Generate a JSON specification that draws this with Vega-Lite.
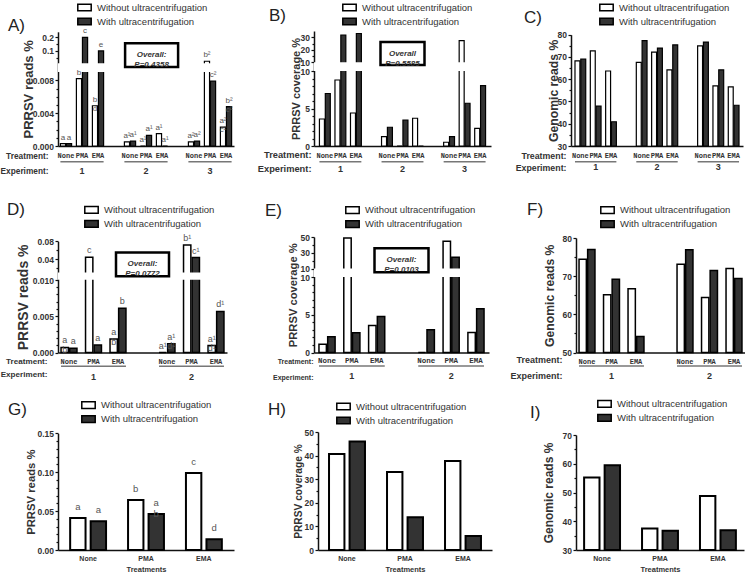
{
"$schema": "https://vega.github.io/schema/vega-lite/v6.json",
"padding": {"left": 0, "top": 0, "right": 0, "bottom": 0},
"spacing": 25,
"resolve": {"scale": {"fill": "independent", "xOffset": "independent"}, "legend": {"fill": "independent"}},
"vconcat": [
{"hconcat": [
{"width": 176, "height": 115,
 "title": {"text": "A)", "dx": -50, "dy": 39},
 "resolve": {"axis": {"y": "independent"}},
 "data": {"values": [
  {"cat":"1|None","s":"w","v":0.0003,"lab":"a"},{"cat":"1|None","s":"u","v":0.0003,"lab":"a"},
  {"cat":"1|PMA","s":"w","v":0.0082,"lab":"b"},{"cat":"1|PMA","s":"u","v":0.2,"lab":"c"},
  {"cat":"1|EMA","s":"w","v":0.0049,"lab":"b\nd"},{"cat":"1|EMA","s":"u","v":0.1,"lab":"e"},
  {"cat":"2|None","s":"w","v":0.0005,"lab":"a¹"},{"cat":"2|None","s":"u","v":0.0006,"lab":"a¹"},
  {"cat":"2|PMA","s":"w","v":0,"lab":"a¹"},{"cat":"2|PMA","s":"u","v":0.0013,"lab":"a¹"},
  {"cat":"2|EMA","s":"w","v":0.0015,"lab":"a¹"},{"cat":"2|EMA","s":"u","v":0,"lab":"a¹"},
  {"cat":"3|None","s":"w","v":0.0005,"lab":"a²"},{"cat":"3|None","s":"u","v":0.0006,"lab":"a²"},
  {"cat":"3|PMA","s":"w","v":0.025,"lab":"b²"},{"cat":"3|PMA","s":"u","v":0.0079,"lab":"c²"},
  {"cat":"3|EMA","s":"w","v":0.0023,"lab":"a²\nc²"},{"cat":"3|EMA","s":"u","v":0.0048,"lab":"b²\nc²"}
 ]},
 "layer": [
  {"mark": {"type": "bar", "stroke": "black", "strokeWidth": 1.2},
   "encoding": {
    "x": {"field": "cat", "type": "nominal",
      "scale": {"domain": ["1|None","1|PMA","1|EMA","g1","2|None","2|PMA","2|EMA","g2","3|None","3|PMA","3|EMA"], "paddingInner": 0.3, "paddingOuter": 0.15},
      "axis": {"title": ["Treatment:", "Experiment:"], "titleAlign": "right", "titleX": -10, "titleY": 5, "titleBaseline": "top", "titleLineHeight": 15.7, "titleFontSize": 8.3,
        "labelExpr": "indexof(datum.value, '|') > 0 ? split(datum.value, '|')[1] : ''", "labelFont": "Liberation Mono", "labelFontSize": 7, "labelAngle": 0, "labelPadding": 5, "ticks": false}},
    "xOffset": {"field": "s", "type": "nominal", "scale": {"domain": ["w","u"], "paddingInner": 0.15}},
    "y": {"field": "v", "type": "quantitative",
      "scale": {"domain": [0, 0.009, 0.01, 0.24], "range": [115, 41.1, 32.3, 0.8], "nice": false, "zero": false},
      "axis": {"orient": "left", "title": "PRRSV reads %", "titleFontSize": 13, "values": [0, 0.004, 0.008, 0.1, 0.2], "tickCount": 50, "labelExpr": "datum.value < 0.01 ? format(datum.value, '.3f') : format(datum.value, '.1f')", "minExtent": 23, "maxExtent": 23, "titlePadding": 0}},
    "y2": {"datum": 0},
    "fill": {"field": "s", "type": "nominal", "scale": {"domain": ["w","u"], "range": ["white", "#333333"]},
      "legend": {"orient": "none", "title": null, "legendX": 19, "legendY": -31, "labelExpr": "datum.value == 'w' ? 'Without ultracentrifugation' : 'With ultracentrifugation'"}}
   }},
  {"data": {"values": [{}]}, "mark": {"type": "rule", "opacity": 0},
   "encoding": {"y": {"datum": 0, "type": "quantitative", "axis": {"orient": "left", "values": [0.001, 0.002, 0.003, 0.005, 0.006, 0.007, 0.05, 0.15], "tickCount": 50, "labels": false, "domain": false, "title": null, "tickSize": 2}}}},
  {"data": {"values": [{}]}, "mark": {"type": "rect", "fill": "white"},
   "encoding": {"y": {"datum": 0.009, "type": "quantitative", "axis": null}, "y2": {"datum": 0.01}}},
  {"mark": {"type": "text", "baseline": "bottom", "dy": -2, "fontSize": 8, "color": "#555", "lineBreak": "\n", "lineHeight": 9},
   "encoding": {"x": {"field": "cat", "type": "nominal"}, "xOffset": {"field": "s", "type": "nominal"}, "y": {"field": "v", "type": "quantitative", "axis": null}, "text": {"field": "lab"}}},
  {"data": {"values": [{"t": "Overall:\nP=0.4358"}]},
   "layer": [
    {"mark": {"type": "point", "shape": "M-1,-0.45L1,-0.45L1,0.45L-1,0.45Z", "size": 2809, "filled": false, "color": "black", "strokeWidth": 2.5, "opacity": 1},
     "encoding": {"x": {"datum": "2|PMA", "type": "nominal", "bandPosition": 1}, "y": {"datum": 0.07, "type": "quantitative", "axis": null}}},
    {"mark": {"type": "text", "fontSize": 8, "fontStyle": "italic", "fontWeight": "bold", "lineBreak": "\n", "lineHeight": 10, "color": "#333", "baseline": "middle"},
     "encoding": {"x": {"datum": "2|PMA", "type": "nominal", "bandPosition": 1}, "y": {"datum": 0.07, "type": "quantitative", "axis": null}, "text": {"field": "t"}}}
   ]},
  {"data": {"values": [{"e":"1","a":"1|None","m":"1|PMA","b":"1|EMA"},{"e":"2","a":"2|None","m":"2|PMA","b":"2|EMA"},{"e":"3","a":"3|None","m":"3|PMA","b":"3|EMA"}]},
   "layer": [
    {"mark": {"type": "rule", "color": "#777", "strokeWidth": 1.5},
     "encoding": {"x": {"field": "a", "type": "nominal", "bandPosition": 0}, "x2": {"field": "b", "bandPosition": 1}, "y": {"datum": -0.00191, "type": "quantitative", "axis": null}}},
    {"mark": {"type": "text", "fontSize": 9, "fontWeight": "bold", "color": "#333", "baseline": "middle"},
     "encoding": {"x": {"field": "m", "type": "nominal"}, "y": {"datum": -0.00301, "type": "quantitative", "axis": null}, "text": {"field": "e"}}}
   ]}
 ]},
{"width": 177, "height": 115,
 "title": {"text": "B)", "dx": -45, "dy": 28.6},
 "resolve": {"axis": {"y": "independent"}},
 "data": {"values": [
  {"cat":"1|None","s":"w","v":3.6},{"cat":"1|None","s":"u","v":7.0},
  {"cat":"1|PMA","s":"w","v":8.8},{"cat":"1|PMA","s":"u","v":31.8},
  {"cat":"1|EMA","s":"w","v":4.4},{"cat":"1|EMA","s":"u","v":33},
  {"cat":"2|None","s":"w","v":1.24},{"cat":"2|None","s":"u","v":2.5},
  {"cat":"2|PMA","s":"w","v":0},{"cat":"2|PMA","s":"u","v":3.47},
  {"cat":"2|EMA","s":"w","v":3.7},{"cat":"2|EMA","s":"u","v":0},
  {"cat":"3|None","s":"w","v":0.5},{"cat":"3|None","s":"u","v":1.24},
  {"cat":"3|PMA","s":"w","v":27.3},{"cat":"3|PMA","s":"u","v":5.7},
  {"cat":"3|EMA","s":"w","v":2.36},{"cat":"3|EMA","s":"u","v":8.04}
 ]},
 "layer": [
  {"mark": {"type": "bar", "stroke": "black", "strokeWidth": 1.2},
   "encoding": {
    "x": {"field": "cat", "type": "nominal",
      "scale": {"domain": ["1|None","1|PMA","1|EMA","g1","2|None","2|PMA","2|EMA","g2","3|None","3|PMA","3|EMA"], "paddingInner": 0.3, "paddingOuter": 0.35},
      "axis": {"title": ["Treatment:", "Experiment:"], "titleAlign": "right", "titleX": -3, "titleY": 4.5, "titleBaseline": "top", "titleLineHeight": 14.3, "titleFontSize": 9.3,
        "labelExpr": "indexof(datum.value, '|') > 0 ? split(datum.value, '|')[1] : ''", "labelFont": "Liberation Mono", "labelFontSize": 7, "labelAngle": 0, "labelPadding": 5, "ticks": false}},
    "xOffset": {"field": "s", "type": "nominal", "scale": {"domain": ["w","u"], "paddingInner": 0.15}},
    "y": {"field": "v", "type": "quantitative",
      "scale": {"domain": [0, 10, 10.001, 35], "range": [115, 40, 31.3, 0], "nice": false, "zero": false},
      "axis": {"orient": "left", "title": "PRRSV coverage %", "titleFontSize": 11, "values": [0, 5, 10, 10.001, 20, 30], "tickCount": 50, "labelExpr": "format(round(datum.value), 'd')", "minExtent": 12, "maxExtent": 12, "titlePadding": 1}},
    "y2": {"datum": 0},
    "fill": {"field": "s", "type": "nominal", "scale": {"domain": ["w","u"], "range": ["white", "#333333"]},
      "legend": {"orient": "none", "title": null, "legendX": 28, "legendY": -31, "labelExpr": "datum.value == 'w' ? 'Without ultracentrifugation' : 'With ultracentrifugation'"}}
   }},
  {"data": {"values": [{}]}, "mark": {"type": "rule", "opacity": 0},
   "encoding": {"y": {"datum": 0, "type": "quantitative", "axis": {"orient": "left", "values": [1, 2, 3, 4, 6, 7, 8, 9, 15, 25], "tickCount": 50, "labels": false, "domain": false, "title": null, "tickSize": 2}}}},
  {"data": {"values": [{}]}, "mark": {"type": "rect", "fill": "white"},
   "encoding": {"y": {"datum": 10, "type": "quantitative", "axis": null}, "y2": {"datum": 10.001}}},
  {"data": {"values": [{"t": "Overall\nP=0.5585"}]},
   "layer": [
    {"mark": {"type": "point", "shape": "M-1,-0.52L1,-0.52L1,0.52L-1,0.52Z", "size": 1936, "filled": false, "color": "black", "strokeWidth": 2.5, "opacity": 1},
     "encoding": {"x": {"datum": "2|PMA", "type": "nominal"}, "y": {"datum": 17, "type": "quantitative", "axis": null}}},
    {"mark": {"type": "text", "fontSize": 8, "fontStyle": "italic", "fontWeight": "bold", "lineBreak": "\n", "lineHeight": 10, "color": "#333", "baseline": "middle"},
     "encoding": {"x": {"datum": "2|PMA", "type": "nominal"}, "y": {"datum": 17, "type": "quantitative", "axis": null}, "text": {"field": "t"}}}
   ]},
  {"data": {"values": [{"e":"1","a":"1|None","m":"1|PMA","b":"1|EMA"},{"e":"2","a":"2|None","m":"2|PMA","b":"2|EMA"},{"e":"3","a":"3|None","m":"3|PMA","b":"3|EMA"}]},
   "layer": [
    {"mark": {"type": "rule", "color": "#777", "strokeWidth": 1.5},
     "encoding": {"x": {"field": "a", "type": "nominal", "bandPosition": 0}, "x2": {"field": "b", "bandPosition": 1}, "y": {"datum": -2.09, "type": "quantitative", "axis": null}}},
    {"mark": {"type": "text", "fontSize": 9, "fontWeight": "bold", "color": "#333", "baseline": "middle"},
     "encoding": {"x": {"field": "m", "type": "nominal"}, "y": {"datum": -3.11, "type": "quantitative", "axis": null}, "text": {"field": "e"}}}
   ]}
 ]},
{"width": 172, "height": 115,
 "title": {"text": "C)", "dx": -47, "dy": 31.1},
 "resolve": {"axis": {"y": "independent"}},
 "data": {"values": [
  {"cat":"1|None","s":"w","v":68.2},{"cat":"1|None","s":"u","v":69.0},
  {"cat":"1|PMA","s":"w","v":72.7},{"cat":"1|PMA","s":"u","v":47.9},
  {"cat":"1|EMA","s":"w","v":63.7},{"cat":"1|EMA","s":"u","v":40.9},
  {"cat":"2|None","s":"w","v":67.6},{"cat":"2|None","s":"u","v":77.3},
  {"cat":"2|PMA","s":"w","v":72.2},{"cat":"2|PMA","s":"u","v":74.0},
  {"cat":"2|EMA","s":"w","v":64.2},{"cat":"2|EMA","s":"u","v":75.4},
  {"cat":"3|None","s":"w","v":75.0},{"cat":"3|None","s":"u","v":76.7},
  {"cat":"3|PMA","s":"w","v":57.0},{"cat":"3|PMA","s":"u","v":64.2},
  {"cat":"3|EMA","s":"w","v":56.6},{"cat":"3|EMA","s":"u","v":48.3}
 ]},
 "layer": [
  {"mark": {"type": "bar", "stroke": "black", "strokeWidth": 1.2},
   "encoding": {
    "x": {"field": "cat", "type": "nominal",
      "scale": {"domain": ["1|None","1|PMA","1|EMA","g1","2|None","2|PMA","2|EMA","g2","3|None","3|PMA","3|EMA"], "paddingInner": 0.3, "paddingOuter": 0.26},
      "axis": {"title": ["Treatment:", "Experiment:"], "titleAlign": "right", "titleX": -5, "titleY": 5.5, "titleBaseline": "top", "titleLineHeight": 12, "titleFontSize": 8.8,
        "labelExpr": "indexof(datum.value, '|') > 0 ? split(datum.value, '|')[1] : ''", "labelFont": "Liberation Mono", "labelFontSize": 7, "labelAngle": 0, "labelPadding": 5, "ticks": false}},
    "xOffset": {"field": "s", "type": "nominal", "scale": {"domain": ["w","u"], "paddingInner": 0.15}},
    "y": {"field": "v", "type": "quantitative",
      "scale": {"domain": [30, 80], "range": [115, 3.7], "nice": false, "zero": false},
      "axis": {"orient": "left", "title": "Genomic reads %", "titleFontSize": 12.2, "values": [30, 40, 50, 60, 70, 80], "tickCount": 50, "format": "d", "minExtent": 10, "maxExtent": 10, "titlePadding": 1}},
    "y2": {"datum": 30},
    "fill": {"field": "s", "type": "nominal", "scale": {"domain": ["w","u"], "range": ["white", "#333333"]},
      "legend": {"orient": "none", "title": null, "legendX": 28, "legendY": -31, "labelExpr": "datum.value == 'w' ? 'Without ultracentrifugation' : 'With ultracentrifugation'"}}
   }},
  {"data": {"values": [{}]}, "mark": {"type": "rule", "opacity": 0},
   "encoding": {"y": {"datum": 30, "type": "quantitative", "axis": {"orient": "left", "values": [35, 45, 55, 65, 75], "tickCount": 50, "labels": false, "domain": false, "title": null, "tickSize": 2}}}},
  {"data": {"values": [{"e":"1","a":"1|None","m":"1|PMA","b":"1|EMA"},{"e":"2","a":"2|None","m":"2|PMA","b":"2|EMA"},{"e":"3","a":"3|None","m":"3|PMA","b":"3|EMA"}]},
   "layer": [
    {"mark": {"type": "rule", "color": "#777", "strokeWidth": 1.5},
     "encoding": {"x": {"field": "a", "type": "nominal", "bandPosition": 0}, "x2": {"field": "b", "bandPosition": 1}, "y": {"datum": 22.95, "type": "quantitative", "axis": null}}},
    {"mark": {"type": "text", "fontSize": 9, "fontWeight": "bold", "color": "#333", "baseline": "middle"},
     "encoding": {"x": {"field": "m", "type": "nominal"}, "y": {"datum": 20.7, "type": "quantitative", "axis": null}, "text": {"field": "e"}}}
   ]}
 ]}
], "spacing": 80, "bounds": "flush", "resolve": {"scale": {"fill": "independent", "xOffset": "independent"}, "legend": {"fill": "independent"}}},
{"vconcat": [
{"hconcat": [
{"width": 169, "height": 115.5,
 "title": {"text": "D)", "dx": -51, "dy": 21},
 "resolve": {"axis": {"y": "independent"}},
 "data": {"values": [
  {"cat":"1|None","s":"w","v":0.0007,"lab":"a\nb"},{"cat":"1|None","s":"u","v":0.0006,"lab":"a"},
  {"cat":"1|PMA","s":"w","v":0.0444,"lab":"c"},{"cat":"1|PMA","s":"u","v":0.00104,"lab":"a"},
  {"cat":"1|EMA","s":"w","v":0.00186,"lab":"a\nb"},{"cat":"1|EMA","s":"u","v":0.0061,"lab":"b"},
  {"cat":"2|None","s":"w","v":0,"lab":"a¹"},{"cat":"2|None","s":"u","v":0.00122,"lab":"a¹\nd¹"},
  {"cat":"2|PMA","s":"w","v":0.0719,"lab":"b¹"},{"cat":"2|PMA","s":"u","v":0.0437,"lab":"c¹"},
  {"cat":"2|EMA","s":"w","v":0.00095,"lab":"a¹\nd¹"},{"cat":"2|EMA","s":"u","v":0.00566,"lab":"d¹"}
 ]},
 "layer": [
  {"mark": {"type": "bar", "stroke": "black", "strokeWidth": 1.5},
   "encoding": {
    "x": {"field": "cat", "type": "nominal",
      "scale": {"domain": ["1|None","1|PMA","1|EMA","g1","2|None","2|PMA","2|EMA"], "paddingInner": 0.35, "paddingOuter": 0.124},
      "axis": {"title": ["Treatment:", "Experiment:"], "titleAlign": "right", "titleX": -11, "titleY": 4.6, "titleBaseline": "top", "titleLineHeight": 13.7, "titleFontSize": 8.1,
        "labelExpr": "indexof(datum.value, '|') > 0 ? split(datum.value, '|')[1] : ''", "labelFont": "Liberation Mono", "labelFontSize": 7, "labelAngle": 0, "labelPadding": 5, "ticks": false}},
    "xOffset": {"field": "s", "type": "nominal", "scale": {"domain": ["w","u"], "paddingInner": 0.15}},
    "y": {"field": "v", "type": "quantitative",
      "scale": {"domain": [0, 0.01, 0.011, 0.08], "range": [115.5, 43, 35.3, 4.3], "nice": false, "zero": false},
      "axis": {"orient": "left", "title": "PRRSV reads %", "titleFontSize": 14, "values": [0, 0.005, 0.01, 0.04, 0.08], "tickCount": 50, "labelExpr": "datum.value < 0.0101 ? format(datum.value, '.3f') : format(datum.value, '.2f')", "minExtent": 25, "maxExtent": 25, "titlePadding": 3}},
    "y2": {"datum": 0},
    "fill": {"field": "s", "type": "nominal", "scale": {"domain": ["w","u"], "range": ["white", "#333333"]},
      "legend": {"orient": "none", "title": null, "legendX": 26, "legendY": -34.7, "labelExpr": "datum.value == 'w' ? 'Without ultracentrifugation' : 'With ultracentrifugation'"}}
   }},
  {"data": {"values": [{}]}, "mark": {"type": "rule", "opacity": 0},
   "encoding": {"y": {"datum": 0, "type": "quantitative", "axis": {"orient": "left", "values": [0.001, 0.002, 0.003, 0.004, 0.006, 0.007, 0.008, 0.009, 0.02, 0.06], "tickCount": 50, "labels": false, "domain": false, "title": null, "tickSize": 2}}}},
  {"data": {"values": [{}]}, "mark": {"type": "rect", "fill": "white"},
   "encoding": {"y": {"datum": 0.01002, "type": "quantitative", "axis": null}, "y2": {"datum": 0.01098}}},
  {"mark": {"type": "text", "baseline": "bottom", "dy": -2, "fontSize": 9, "color": "#555", "lineBreak": "\n", "lineHeight": 9.5},
   "encoding": {"x": {"field": "cat", "type": "nominal"}, "xOffset": {"field": "s", "type": "nominal"}, "y": {"field": "v", "type": "quantitative", "axis": null}, "text": {"field": "lab"}}},
  {"data": {"values": [{"t": "Overall:\nP=0.0772"}]},
   "layer": [
    {"mark": {"type": "point", "shape": "M-1,-0.45L1,-0.45L1,0.45L-1,0.45Z", "size": 2809, "filled": false, "color": "black", "strokeWidth": 2.5, "opacity": 1},
     "encoding": {"x": {"datum": "g1", "type": "nominal"}, "y": {"datum": 0.0288, "type": "quantitative", "axis": null}}},
    {"mark": {"type": "text", "fontSize": 8, "fontStyle": "italic", "fontWeight": "bold", "lineBreak": "\n", "lineHeight": 10, "color": "#333", "baseline": "middle"},
     "encoding": {"x": {"datum": "g1", "type": "nominal"}, "y": {"datum": 0.0288, "type": "quantitative", "axis": null}, "text": {"field": "t"}}}
   ]},
  {"data": {"values": [{"e":"1","a":"1|None","m":"1|PMA","b":"1|EMA"},{"e":"2","a":"2|None","m":"2|PMA","b":"2|EMA"}]},
   "layer": [
    {"mark": {"type": "rule", "color": "#777", "strokeWidth": 1.5},
     "encoding": {"x": {"field": "a", "type": "nominal", "bandPosition": 0}, "x2": {"field": "b", "bandPosition": 1}, "y": {"datum": -0.0019, "type": "quantitative", "axis": null}}},
    {"mark": {"type": "text", "fontSize": 9, "fontWeight": "bold", "color": "#333", "baseline": "middle"},
     "encoding": {"x": {"field": "m", "type": "nominal"}, "y": {"datum": -0.00335, "type": "quantitative", "axis": null}, "text": {"field": "e"}}}
   ]}
 ]},
{"width": 175, "height": 115.5,
 "title": {"text": "E)", "dx": -49, "dy": 21},
 "resolve": {"axis": {"y": "independent"}},
 "data": {"values": [
  {"cat":"1|None","s":"w","v":1.1},{"cat":"1|None","s":"u","v":2.08},
  {"cat":"1|PMA","s":"w","v":48.7},{"cat":"1|PMA","s":"u","v":2.6},
  {"cat":"1|EMA","s":"w","v":3.58},{"cat":"1|EMA","s":"u","v":4.78},
  {"cat":"2|None","s":"w","v":0},{"cat":"2|None","s":"u","v":3.0},
  {"cat":"2|PMA","s":"w","v":44.5},{"cat":"2|PMA","s":"u","v":24.3},
  {"cat":"2|EMA","s":"w","v":2.65},{"cat":"2|EMA","s":"u","v":5.8}
 ]},
 "layer": [
  {"mark": {"type": "bar", "stroke": "black", "strokeWidth": 1.5},
   "encoding": {
    "x": {"field": "cat", "type": "nominal",
      "scale": {"domain": ["1|None","1|PMA","1|EMA","g1","2|None","2|PMA","2|EMA"], "paddingInner": 0.35, "paddingOuter": 0.2},
      "axis": {"title": ["Treatment:", "Experiment:"], "titleAlign": "right", "titleX": -1, "titleY": 5, "titleBaseline": "top", "titleLineHeight": 16, "titleFontSize": 7,
        "labelExpr": "indexof(datum.value, '|') > 0 ? split(datum.value, '|')[1] : ''", "labelFont": "Liberation Mono", "labelFontSize": 7.5, "labelAngle": 0, "labelPadding": 4, "ticks": false}},
    "xOffset": {"field": "s", "type": "nominal", "scale": {"domain": ["w","u"], "paddingInner": 0.15}},
    "y": {"field": "v", "type": "quantitative",
      "scale": {"domain": [0, 10, 10.001, 50], "range": [115.5, 40, 31.6, 0], "nice": false, "zero": false},
      "axis": {"orient": "left", "title": "PRRSV coverage %", "titleFontSize": 11.2, "values": [0, 5, 10, 10.001, 30, 50], "tickCount": 50, "labelExpr": "format(round(datum.value), 'd')", "minExtent": 9, "maxExtent": 9, "titlePadding": 7}},
    "y2": {"datum": 0},
    "fill": {"field": "s", "type": "nominal", "scale": {"domain": ["w","u"], "range": ["white", "#333333"]},
      "legend": {"orient": "none", "title": null, "legendX": 31, "legendY": -34.4, "labelExpr": "datum.value == 'w' ? 'Without ultracentrifugation' : 'With ultracentrifugation'"}}
   }},
  {"data": {"values": [{}]}, "mark": {"type": "rule", "opacity": 0},
   "encoding": {"y": {"datum": 0, "type": "quantitative", "axis": {"orient": "left", "values": [1, 2, 3, 4, 6, 7, 8, 9, 20, 40], "tickCount": 50, "labels": false, "domain": false, "title": null, "tickSize": 2}}}},
  {"data": {"values": [{}]}, "mark": {"type": "rect", "fill": "white"},
   "encoding": {"y": {"datum": 10, "type": "quantitative", "axis": null}, "y2": {"datum": 10.001}}},
  {"data": {"values": [{"t": "Overall:\nP=0.0103"}]},
   "layer": [
    {"mark": {"type": "point", "shape": "M-1,-0.444L1,-0.444L1,0.444L-1,0.444Z", "size": 2916, "filled": false, "color": "black", "strokeWidth": 2.5, "opacity": 1},
     "encoding": {"x": {"datum": "g1", "type": "nominal"}, "y": {"datum": 20.5, "type": "quantitative", "axis": null}}},
    {"mark": {"type": "text", "fontSize": 8, "fontStyle": "italic", "fontWeight": "bold", "lineBreak": "\n", "lineHeight": 10, "color": "#333", "baseline": "middle"},
     "encoding": {"x": {"datum": "g1", "type": "nominal"}, "y": {"datum": 20.5, "type": "quantitative", "axis": null}, "text": {"field": "t"}}}
   ]},
  {"data": {"values": [{"e":"1","a":"1|None","m":"1|PMA","b":"1|EMA"},{"e":"2","a":"2|None","m":"2|PMA","b":"2|EMA"}]},
   "layer": [
    {"mark": {"type": "rule", "color": "#777", "strokeWidth": 1.5},
     "encoding": {"x": {"field": "a", "type": "nominal", "bandPosition": 0}, "x2": {"field": "b", "bandPosition": 1}, "y": {"datum": -1.79, "type": "quantitative", "axis": null}}},
    {"mark": {"type": "text", "fontSize": 9, "fontWeight": "bold", "color": "#333", "baseline": "middle"},
     "encoding": {"x": {"field": "m", "type": "nominal"}, "y": {"datum": -3.11, "type": "quantitative", "axis": null}, "text": {"field": "e"}}}
   ]}
 ]},
{"width": 169, "height": 115.5,
 "title": {"text": "F)", "dx": -49, "dy": 20.5},
 "resolve": {"axis": {"y": "independent"}},
 "data": {"values": [
  {"cat":"1|None","s":"w","v":74.4},{"cat":"1|None","s":"u","v":77.0},
  {"cat":"1|PMA","s":"w","v":65.1},{"cat":"1|PMA","s":"u","v":69.2},
  {"cat":"1|EMA","s":"w","v":66.7},{"cat":"1|EMA","s":"u","v":54.2},
  {"cat":"2|None","s":"w","v":73.1},{"cat":"2|None","s":"u","v":76.9},
  {"cat":"2|PMA","s":"w","v":64.4},{"cat":"2|PMA","s":"u","v":71.5},
  {"cat":"2|EMA","s":"w","v":72.0},{"cat":"2|EMA","s":"u","v":69.4}
 ]},
 "layer": [
  {"mark": {"type": "bar", "stroke": "black", "strokeWidth": 1.5},
   "encoding": {
    "x": {"field": "cat", "type": "nominal",
      "scale": {"domain": ["1|None","1|PMA","1|EMA","g1","2|None","2|PMA","2|EMA"], "paddingInner": 0.35, "paddingOuter": 0.124},
      "axis": {"title": ["Treatment:", "Experiment:"], "titleAlign": "right", "titleX": -14, "titleY": 3, "titleBaseline": "top", "titleLineHeight": 15.6, "titleFontSize": 9,
        "labelExpr": "indexof(datum.value, '|') > 0 ? split(datum.value, '|')[1] : ''", "labelFont": "Liberation Mono", "labelFontSize": 7, "labelAngle": 0, "labelPadding": 5, "ticks": false}},
    "xOffset": {"field": "s", "type": "nominal", "scale": {"domain": ["w","u"], "paddingInner": 0.15}},
    "y": {"field": "v", "type": "quantitative",
      "scale": {"domain": [50, 80], "range": [115.5, 1], "nice": false, "zero": false},
      "axis": {"orient": "left", "title": "Genomic reads %", "titleFontSize": 12.2, "values": [50, 60, 70, 80], "tickCount": 50, "format": "d", "minExtent": 18, "maxExtent": 18, "titlePadding": 2}},
    "y2": {"datum": 50},
    "fill": {"field": "s", "type": "nominal", "scale": {"domain": ["w","u"], "range": ["white", "#333333"]},
      "legend": {"orient": "none", "title": null, "legendX": 24, "legendY": -34.4, "labelExpr": "datum.value == 'w' ? 'Without ultracentrifugation' : 'With ultracentrifugation'"}}
   }},
  {"data": {"values": [{}]}, "mark": {"type": "rule", "opacity": 0},
   "encoding": {"y": {"datum": 50, "type": "quantitative", "axis": {"orient": "left", "values": [55, 65, 75], "tickCount": 50, "labels": false, "domain": false, "title": null, "tickSize": 2}}}},
  {"data": {"values": [{"e":"1","a":"1|None","m":"1|PMA","b":"1|EMA"},{"e":"2","a":"2|None","m":"2|PMA","b":"2|EMA"}]},
   "layer": [
    {"mark": {"type": "rule", "color": "#777", "strokeWidth": 1.5},
     "encoding": {"x": {"field": "a", "type": "nominal", "bandPosition": 0}, "x2": {"field": "b", "bandPosition": 1}, "y": {"datum": 46.47, "type": "quantitative", "axis": null}}},
    {"mark": {"type": "text", "fontSize": 9, "fontWeight": "bold", "color": "#333", "baseline": "middle"},
     "encoding": {"x": {"field": "m", "type": "nominal"}, "y": {"datum": 43.95, "type": "quantitative", "axis": null}, "text": {"field": "e"}}}
   ]}
 ]}
], "spacing": 87, "bounds": "flush", "resolve": {"scale": {"fill": "independent", "xOffset": "independent"}, "legend": {"fill": "independent"}}},
{"hconcat": [
{"width": 176, "height": 118,
 "title": {"text": "G)", "dx": -50, "dy": 25},
 "resolve": {"axis": {"y": "independent"}},
 "data": {"values": [
  {"cat":"None","s":"w","v":0.0411,"lab":"a"},{"cat":"None","s":"u","v":0.0369,"lab":"a"},
  {"cat":"PMA","s":"w","v":0.0643,"lab":"b"},{"cat":"PMA","s":"u","v":0.0463,"lab":"a\nb"},
  {"cat":"EMA","s":"w","v":0.099,"lab":"c"},{"cat":"EMA","s":"u","v":0.0137,"lab":"d"}
 ]},
 "layer": [
  {"mark": {"type": "bar", "stroke": "black", "strokeWidth": 2},
   "encoding": {
    "x": {"field": "cat", "type": "nominal",
      "scale": {"domain": ["None","PMA","EMA"], "paddingInner": 0.38, "paddingOuter": 0.21},
      "axis": {"title": "Treatments", "titleFontSize": 7.5, "titlePadding": 4, "labelFontSize": 7, "labelAngle": 0, "labelPadding": 4, "ticks": false}},
    "xOffset": {"field": "s", "type": "nominal", "scale": {"domain": ["w","u"], "paddingInner": 0.25}},
    "y": {"field": "v", "type": "quantitative",
      "scale": {"domain": [0, 0.15], "range": [118, 1.3], "nice": false, "zero": false},
      "axis": {"orient": "left", "title": "PRRSV reads %", "titleFontSize": 11.3, "values": [0, 0.05, 0.1, 0.15], "tickCount": 50, "format": ".2f", "minExtent": 22, "maxExtent": 22, "titlePadding": 0}},
    "y2": {"datum": 0},
    "fill": {"field": "s", "type": "nominal", "scale": {"domain": ["w","u"], "range": ["white", "#333333"]},
      "legend": {"orient": "none", "title": null, "legendX": 23, "legendY": -34.3, "labelExpr": "datum.value == 'w' ? 'Without ultracentrifugation' : 'With ultracentrifugation'"}}
   }},
  {"data": {"values": [{}]}, "mark": {"type": "rule", "opacity": 0},
   "encoding": {"y": {"datum": 0, "type": "quantitative", "axis": {"orient": "left", "values": [0.01, 0.02, 0.03, 0.04, 0.06, 0.07, 0.08, 0.09, 0.11, 0.12, 0.13, 0.14], "tickCount": 50, "labels": false, "domain": false, "title": null, "tickSize": 2}}}},
  {"mark": {"type": "text", "baseline": "bottom", "dy": -6, "fontSize": 9.5, "color": "#555", "lineBreak": "\n", "lineHeight": 11},
   "encoding": {"x": {"field": "cat", "type": "nominal"}, "xOffset": {"field": "s", "type": "nominal"}, "y": {"field": "v", "type": "quantitative", "axis": null}, "text": {"field": "lab"}}}
 ]},
{"width": 174, "height": 118,
 "title": {"text": "H)", "dx": -50, "dy": 23.5},
 "resolve": {"axis": {"y": "independent"}},
 "data": {"values": [
  {"cat":"None","s":"w","v":40.7},{"cat":"None","s":"u","v":46.0},
  {"cat":"PMA","s":"w","v":33.0},{"cat":"PMA","s":"u","v":13.9},
  {"cat":"EMA","s":"w","v":37.7},{"cat":"EMA","s":"u","v":5.9}
 ]},
 "layer": [
  {"mark": {"type": "bar", "stroke": "black", "strokeWidth": 2},
   "encoding": {
    "x": {"field": "cat", "type": "nominal",
      "scale": {"domain": ["None","PMA","EMA"], "paddingInner": 0.38, "paddingOuter": 0.19},
      "axis": {"title": "Treatments", "titleFontSize": 7.5, "titlePadding": 4, "labelFontSize": 7, "labelAngle": 0, "labelPadding": 4, "ticks": false}},
    "xOffset": {"field": "s", "type": "nominal", "scale": {"domain": ["w","u"], "paddingInner": 0.25}},
    "y": {"field": "v", "type": "quantitative",
      "scale": {"domain": [0, 50], "range": [118, 0], "nice": false, "zero": false},
      "axis": {"orient": "left", "title": "PRRSV coverage %", "titleFontSize": 10.2, "values": [0, 10, 20, 30, 40, 50], "tickCount": 50, "format": "d", "minExtent": 14, "maxExtent": 14, "titlePadding": 1}},
    "y2": {"datum": 0},
    "fill": {"field": "s", "type": "nominal", "scale": {"domain": ["w","u"], "range": ["white", "#333333"]},
      "legend": {"orient": "none", "title": null, "legendX": 18, "legendY": -33, "labelExpr": "datum.value == 'w' ? 'Without ultracentrifugation' : 'With ultracentrifugation'"}}
   }},
  {"data": {"values": [{}]}, "mark": {"type": "rule", "opacity": 0},
   "encoding": {"y": {"datum": 0, "type": "quantitative", "axis": {"orient": "left", "values": [5, 15, 25, 35, 45], "tickCount": 50, "labels": false, "domain": false, "title": null, "tickSize": 2}}}}
 ]},
{"width": 168, "height": 118,
 "title": {"text": "I)", "dx": -46, "dy": 29.5},
 "resolve": {"axis": {"y": "independent"}},
 "data": {"values": [
  {"cat":"None","s":"w","v":55.2},{"cat":"None","s":"u","v":59.5},
  {"cat":"PMA","s":"w","v":37.5},{"cat":"PMA","s":"u","v":36.7},
  {"cat":"EMA","s":"w","v":48.8},{"cat":"EMA","s":"u","v":36.9}
 ]},
 "layer": [
  {"mark": {"type": "bar", "stroke": "black", "strokeWidth": 2},
   "encoding": {
    "x": {"field": "cat", "type": "nominal",
      "scale": {"domain": ["None","PMA","EMA"], "paddingInner": 0.38, "paddingOuter": 0.14},
      "axis": {"title": "Treatments", "titleFontSize": 7.5, "titlePadding": 4, "labelFontSize": 7, "labelAngle": 0, "labelPadding": 4, "ticks": false}},
    "xOffset": {"field": "s", "type": "nominal", "scale": {"domain": ["w","u"], "paddingInner": 0.25}},
    "y": {"field": "v", "type": "quantitative",
      "scale": {"domain": [30, 70], "range": [118, 3], "nice": false, "zero": false},
      "axis": {"orient": "left", "title": "Genomic reads %", "titleFontSize": 12, "values": [30, 40, 50, 60, 70], "tickCount": 50, "format": "d", "minExtent": 16, "maxExtent": 16, "titlePadding": 5}},
    "y2": {"datum": 30},
    "fill": {"field": "s", "type": "nominal", "scale": {"domain": ["w","u"], "range": ["white", "#333333"]},
      "legend": {"orient": "none", "title": null, "legendX": 21, "legendY": -35.7, "labelExpr": "datum.value == 'w' ? 'Without ultracentrifugation' : 'With ultracentrifugation'"}}
   }},
  {"data": {"values": [{}]}, "mark": {"type": "rule", "opacity": 0},
   "encoding": {"y": {"datum": 30, "type": "quantitative", "axis": {"orient": "left", "values": [35, 45, 55, 65], "tickCount": 50, "labels": false, "domain": false, "title": null, "tickSize": 2}}}}
 ]}
], "spacing": 84, "bounds": "flush", "resolve": {"scale": {"fill": "independent", "xOffset": "independent"}, "legend": {"fill": "independent"}}}
], "spacing": 14, "resolve": {"scale": {"fill": "independent", "xOffset": "independent"}, "legend": {"fill": "independent"}}}
],
"config": {
 "font": "Liberation Sans",
 "view": {"stroke": null},
 "axis": {"domainColor": "#111", "domainWidth": 1.5, "tickColor": "#111", "tickWidth": 1.2, "tickSize": 3, "labelFont": "Liberation Sans", "labelFontWeight": "bold", "labelFontSize": 8.5, "labelColor": "#333", "labelPadding": 1.5, "labelOverlap": false, "titleFont": "Liberation Sans", "titleFontWeight": "bold", "titleColor": "#333", "grid": false},
 "legend": {"symbolType": "M-1,-0.5L1,-0.5L1,0.5L-1,0.5Z", "symbolSize": 180, "symbolStrokeColor": "black", "symbolStrokeWidth": 1.5, "labelFont": "Liberation Sans", "labelFontSize": 9.5, "labelColor": "#333", "rowPadding": 0, "labelOffset": 5, "padding": 0},
 "title": {"font": "Liberation Sans", "fontWeight": "normal", "fontSize": 17, "color": "#222", "anchor": "start", "frame": "group"}
}
}
